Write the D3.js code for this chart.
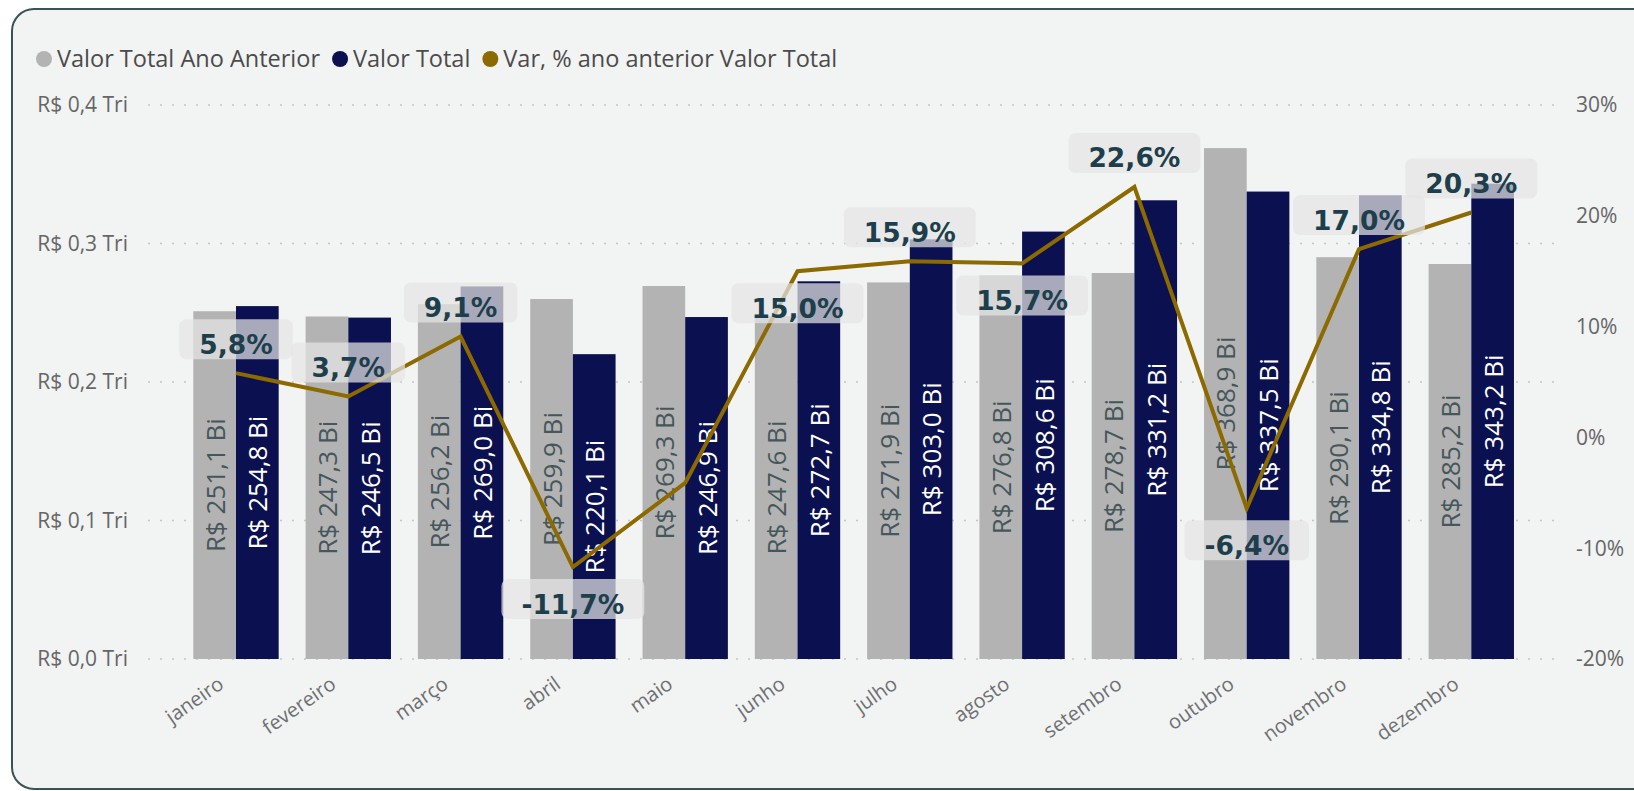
<!DOCTYPE html>
<html>
<head>
<meta charset="utf-8">
<script src="https://cdn.jsdelivr.net/npm/d3@7"></script>
<style>
  body { margin: 0; background: #ffffff; }
  text { font-family: "Open Sans", "Noto Sans", sans-serif; }
</style>
</head>
<body>
<div id="chart"></div>
<script>
// Data (values in R$ bilhões and %)
const months = ["janeiro", "fevereiro", "março", "abril", "maio", "junho",
  "julho", "agosto", "setembro", "outubro", "novembro", "dezembro"];
const valorAnoAnterior = [251.1, 247.3, 256.2, 259.9, 269.3, 247.6, 271.9, 276.8, 278.7, 368.9, 290.1, 285.2];
const valorTotal = [254.8, 246.5, 269.0, 220.1, 246.9, 272.7, 303.0, 308.6, 331.2, 337.5, 334.8, 343.2];
const varPct = [5.8, 3.7, 9.1, -11.7, -4.1, 15.0, 15.9, 15.7, 22.6, -6.4, 17.0, 20.3];
const leftTicks = [0, 100, 200, 300, 400];
const leftTickLabels = ["R$ 0,0 Tri", "R$ 0,1 Tri", "R$ 0,2 Tri", "R$ 0,3 Tri", "R$ 0,4 Tri"];
const rightTicks = [-20, -10, 0, 10, 20, 30];
const seriesNames = ["Valor Total Ano Anterior", "Valor Total", "Var, % ano anterior Valor Total"];

const width = 1634, height = 791;
const colors = { prev: "#b3b3b3", curr: "#0b1150", line: "#8c6a00" };

const svg = d3.select("#chart").append("svg")
  .attr("width", width)
  .attr("height", height);

// card background
svg.append("rect")
  .attr("x", 12).attr("y", 9)
  .attr("width", 1660).attr("height", 780)
  .attr("rx", 22)
  .attr("fill", "#f2f3f3")
  .attr("stroke", "#3b5257")
  .attr("stroke-width", 2);

// scales
const x = d3.scaleBand()
  .domain(months)
  .range([179.85, 1527.45])
  .paddingInner(0.24)
  .paddingOuter(0.12);

const x1 = d3.scaleBand()
  .domain(["prev", "curr"])
  .range([0, x.bandwidth()]);

const y = d3.scaleLinear().domain([0, 400]).range([659, 105]);
const yPct = d3.scaleLinear().domain([-20, 30]).range([659, 105]);

// gridlines
svg.append("g")
  .selectAll("line")
  .data(leftTicks)
  .join("line")
  .attr("x1", 148).attr("x2", 1557)
  .attr("y1", d => y(d)).attr("y2", d => y(d))
  .attr("stroke", "#c4c6c6")
  .attr("stroke-width", 1.5)
  .attr("stroke-dasharray", "2,10");

// left axis labels
svg.append("g")
  .selectAll("text")
  .data(leftTicks)
  .join("text")
  .attr("x", 128)
  .attr("y", d => y(d))
  .attr("dy", "0.35em")
  .attr("text-anchor", "end")
  .attr("font-size", 21)
  .attr("fill", "#666666")
  .text((d, i) => leftTickLabels[i]);

// right axis labels
svg.append("g")
  .selectAll("text")
  .data(rightTicks)
  .join("text")
  .attr("x", 1576)
  .attr("y", d => yPct(d))
  .attr("dy", "0.35em")
  .attr("font-size", 21)
  .attr("fill", "#666666")
  .text(d => d + "%");

// x axis labels
svg.append("g")
  .selectAll("text")
  .data(months)
  .join("text")
  .attr("transform", d => `translate(${x(d) + x.bandwidth() / 2 - 11},687) rotate(-35)`)
  .attr("text-anchor", "end")
  .attr("font-size", 20)
  .attr("fill", "#6e7072")
  .text(d => d);

// bars
const barData = months.map((m, i) => ({ month: m, prev: valorAnoAnterior[i], curr: valorTotal[i] }));
const fmtBi = v => "R$ " + v.toFixed(1).replace(".", ",") + " Bi";

const groups = svg.append("g")
  .selectAll("g")
  .data(barData)
  .join("g")
  .attr("transform", d => `translate(${x(d.month)},0)`);

groups.selectAll("rect")
  .data(d => ["prev", "curr"].map(k => ({ key: k, value: d[k] })))
  .join("rect")
  .attr("x", d => x1(d.key))
  .attr("width", x1.bandwidth())
  .attr("y", d => y(d.value))
  .attr("height", d => y(0) - y(d.value))
  .attr("fill", d => colors[d.key]);

groups.selectAll("text")
  .data(d => ["prev", "curr"].map(k => ({ key: k, value: d[k] })))
  .join("text")
  .attr("transform", d => `translate(${x1(d.key) + x1.bandwidth() / 2 + 1},${(y(d.value) + y(0)) / 2}) rotate(-90)`)
  .attr("text-anchor", "middle")
  .attr("dy", "0.35em")
  .attr("font-size", 26)
  .attr("fill", d => d.key === "prev" ? "#46575c" : "#ffffff")
  .text(d => fmtBi(d.value));

// line
const line = d3.line()
  .x((d, i) => x(months[i]) + x.bandwidth() / 2)
  .y(d => yPct(d));

svg.append("path")
  .datum(varPct)
  .attr("fill", "none")
  .attr("stroke", colors.line)
  .attr("stroke-width", 4)
  .attr("d", line);

// percentage labels (maio is hidden in the original)
const labelSide = ["above", "above", "above", "below", null, "below", "above", "below", "above", "below", "above", "above"];

const pctLabels = svg.append("g")
  .selectAll("g")
  .data(varPct.map((v, i) => ({ v, i, side: labelSide[i] })).filter(d => d.side))
  .join("g")
  .attr("transform", d => {
    const cx = x(months[d.i]) + x.bandwidth() / 2;
    const cy = yPct(d.v) + (d.side === "above" ? -29 : 37);
    return `translate(${cx},${cy})`;
  });

pctLabels.append("rect")
  .attr("fill", "#e4e5e5")
  .attr("fill-opacity", 0.72)
  .attr("rx", 7);

const pctTexts = pctLabels.append("text")
  .attr("text-anchor", "middle")
  .attr("y", 9.5)
  .style("font-family", "'DejaVu Sans', Verdana, sans-serif")
  .style("font-weight", "bold")
  .attr("font-size", 26.5)
  .attr("fill", "#1d3f4b")
  .text(d => d.v.toFixed(1).replace(".", ",") + "%");

pctTexts.each(function(d) {
  const w = this.getComputedTextLength() + 40;
  d3.select(this.parentNode).select("rect")
    .attr("x", -w / 2).attr("width", w)
    .attr("y", -25).attr("height", 40);
});

// legend
const legendColors = [colors.prev, colors.curr, colors.line];
let lx = 44;
const legend = svg.append("g");
seriesNames.forEach((name, i) => {
  legend.append("circle")
    .attr("cx", lx).attr("cy", 59).attr("r", 8)
    .attr("fill", legendColors[i]);
  const t = legend.append("text")
    .attr("x", lx + 13).attr("y", 59)
    .attr("dy", "0.35em")
    .attr("font-size", 23.5)
    .attr("fill", "#4b4b4b")
    .text(name);
  lx += 13 + t.node().getComputedTextLength() + 20;
});
</script>
</body>
</html>
